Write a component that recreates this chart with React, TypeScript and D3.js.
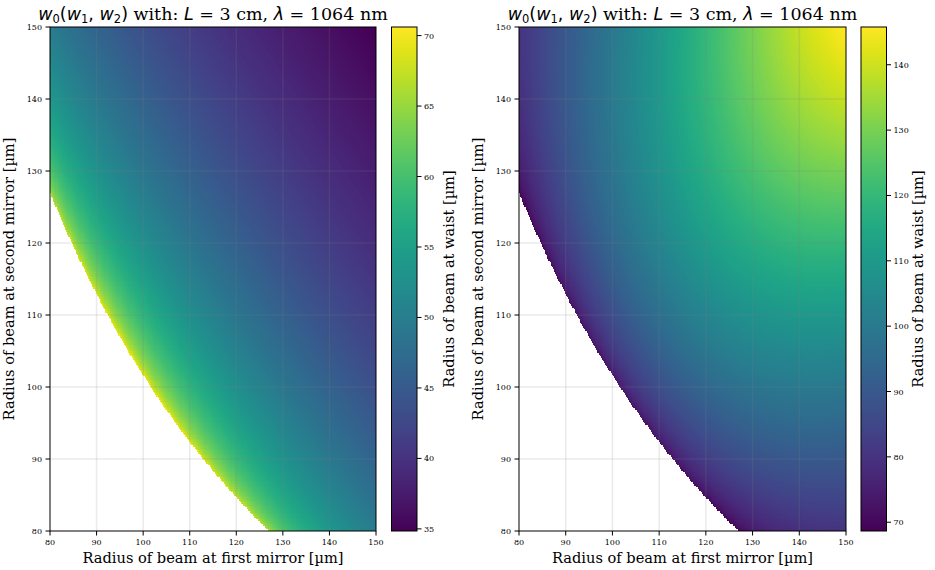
import React, { useMemo } from 'react'
import * as d3 from 'd3'

// cavity parameters from the title
const CAVITY_LENGTH_CM = 3
const WAVELENGTH_NM = 1064

// beam radius at the mirrors, µm (axis ranges)
const MIRROR_RANGE: [number, number] = [80, 150]
const AXIS_TICKS = [80, 90, 100, 110, 120, 130, 140, 150]
const CB_TICKS_SMALL = [35, 40, 45, 50, 55, 60, 65, 70]
const CB_TICKS_LARGE = [70, 80, 90, 100, 110, 120, 130, 140]
const GRID_N = 300

const TOP = 27
const BOTTOM = 531
const SERIF = 'DejaVu Serif, serif'
const SANS = 'DejaVu Sans, sans-serif'

// waist radius (µm) of the gaussian beam that has radius w1, w2 at two mirrors L apart
function waist(w1: number, w2: number, large: boolean): number {
  const lam = WAVELENGTH_NM / 1000
  const L = CAVITY_LENGTH_CM * 1e4
  const a = (lam * L) / (2 * Math.PI)
  const D = w2 * w2 - w1 * w1
  const A = 1 + (D * D) / (16 * a * a)
  const B = (w1 * w1 + w2 * w2) / 2
  const C = a * a
  const disc = B * B - 4 * A * C
  if (disc < 0) return NaN
  const u = (B + (large ? 1 : -1) * Math.sqrt(disc)) / (2 * A)
  return Math.sqrt(u)
}

function buildGrid(large: boolean) {
  const step = (MIRROR_RANGE[1] - MIRROR_RANGE[0]) / GRID_N
  const vals: number[] = []
  for (let r = 0; r < GRID_N; r++) {
    const w2 = MIRROR_RANGE[1] - (r + 0.5) * step
    for (let c = 0; c < GRID_N; c++) {
      const w1 = MIRROR_RANGE[0] + (c + 0.5) * step
      vals.push(waist(w1, w2, large))
    }
  }
  const ext = d3.extent(vals.filter((v) => !isNaN(v))) as [number, number]
  return { vals, ext }
}

function gridImage(vals: number[], color: (v: number) => string) {
  const canvas = document.createElement('canvas')
  canvas.width = GRID_N
  canvas.height = GRID_N
  const ctx = canvas.getContext('2d')!
  const img = ctx.createImageData(GRID_N, GRID_N)
  vals.forEach((v, i) => {
    if (isNaN(v)) return
    const c = d3.rgb(color(v))
    img.data[i * 4] = c.r
    img.data[i * 4 + 1] = c.g
    img.data[i * 4 + 2] = c.b
    img.data[i * 4 + 3] = 255
  })
  ctx.putImageData(img, 0, 0)
  return canvas.toDataURL()
}

const Title: React.FC<{ x: number }> = ({ x }) => {
  const subSize = 11.5
  return (
    <text x={x} y={19.5} textAnchor="middle" fontSize={17.5} fontFamily={SERIF} fill="#000">
      <tspan fontFamily={SANS} fontStyle="italic">w</tspan>
      <tspan fontFamily={SANS} fontSize={subSize} dy={3.5}>0</tspan>
      <tspan fontFamily={SANS} dy={-3.5}>(</tspan>
      <tspan fontFamily={SANS} fontStyle="italic">w</tspan>
      <tspan fontFamily={SANS} fontSize={subSize} dy={3.5}>1</tspan>
      <tspan fontFamily={SANS} dy={-3.5}>, </tspan>
      <tspan fontFamily={SANS} fontStyle="italic">w</tspan>
      <tspan fontFamily={SANS} fontSize={subSize} dy={3.5}>2</tspan>
      <tspan fontFamily={SANS} dy={-3.5}>)</tspan>
      <tspan> with: </tspan>
      <tspan fontFamily={SANS} fontStyle="italic">L</tspan>
      <tspan> = {CAVITY_LENGTH_CM} cm, </tspan>
      <tspan fontFamily={SANS} fontStyle="italic">λ</tspan>
      <tspan> = {WAVELENGTH_NM} nm</tspan>
    </text>
  )
}

interface PanelProps {
  x0: number
  x1: number
  cbX: number
  large: boolean
  cbTicks: number[]
  id: string
}

const Panel: React.FC<PanelProps> = ({ x0, x1, cbX, large, cbTicks, id }) => {
  const { vals, ext } = useMemo(() => buildGrid(large), [large])
  const color = useMemo(() => d3.scaleSequential(d3.interpolateViridis).domain(ext), [ext])
  const href = useMemo(() => gridImage(vals, color), [vals, color])

  const x = d3.scaleLinear().domain(MIRROR_RANGE).range([x0, x1])
  const y = d3.scaleLinear().domain(MIRROR_RANGE).range([BOTTOM, TOP])
  const cbY = d3.scaleLinear().domain(ext).range([BOTTOM, TOP])
  const cbW = 25.5
  const stops = d3.range(0, 1.0001, 0.05)
  const tickFont = { fontSize: 8, fontFamily: SERIF, fill: '#000' }
  const gridStyle = { stroke: '#808080', strokeOpacity: 0.16, strokeWidth: 1.5 }

  return (
    <g>
      <defs>
        <linearGradient id={id} x1="0" y1="1" x2="0" y2="0">
          {stops.map((t) => (
            <stop key={t} offset={t} stopColor={d3.interpolateViridis(t)} />
          ))}
        </linearGradient>
      </defs>
      <image
        href={href}
        x={x0}
        y={TOP}
        width={x1 - x0}
        height={BOTTOM - TOP}
        preserveAspectRatio="none"
        style={{ imageRendering: 'pixelated' }}
      />
      {/* grid */}
      {AXIS_TICKS.slice(1, -1).map((t) => (
        <g key={t}>
          <line x1={x(t)} x2={x(t)} y1={TOP} y2={BOTTOM} {...gridStyle} />
          <line x1={x0} x2={x1} y1={y(t)} y2={y(t)} {...gridStyle} />
        </g>
      ))}
      <rect x={x0} y={TOP} width={x1 - x0} height={BOTTOM - TOP} fill="none" stroke="#000" strokeWidth={1} />
      {/* x axis */}
      {AXIS_TICKS.map((t) => (
        <g key={'x' + t}>
          <line x1={x(t)} x2={x(t)} y1={BOTTOM} y2={BOTTOM + 4.5} stroke="#000" />
          <text x={x(t)} y={BOTTOM + 14} textAnchor="middle" {...tickFont}>{t}</text>
        </g>
      ))}
      {/* y axis */}
      {AXIS_TICKS.map((t) => (
        <g key={'y' + t}>
          <line x1={x0 - 4.5} x2={x0} y1={y(t)} y2={y(t)} stroke="#000" />
          <text x={x0 - 8} y={y(t) + 3} textAnchor="end" {...tickFont}>{t}</text>
        </g>
      ))}
      <text x={(x0 + x1) / 2} y={563} textAnchor="middle" fontSize={14.6} fontFamily={SERIF}>
        Radius of beam at first mirror [µm]
      </text>
      <text
        transform={`translate(${x0 - 36},${(TOP + BOTTOM) / 2}) rotate(-90)`}
        textAnchor="middle"
        fontSize={14.6}
        fontFamily={SERIF}
      >
        Radius of beam at second mirror [µm]
      </text>
      {/* colorbar */}
      <rect x={cbX} y={TOP} width={cbW} height={BOTTOM - TOP} fill={`url(#${id})`} stroke="#000" strokeWidth={1} />
      {cbTicks.map((t) => (
        <g key={'c' + t}>
          <line x1={cbX + cbW} x2={cbX + cbW + 4.5} y1={cbY(t)} y2={cbY(t)} stroke="#000" />
          <text x={cbX + cbW + 7} y={cbY(t) + 3} {...tickFont}>{t}</text>
        </g>
      ))}
      <text
        transform={`translate(${cbX + 62},${(TOP + BOTTOM) / 2}) rotate(-90)`}
        textAnchor="middle"
        fontSize={14.6}
        fontFamily={SERIF}
      >
        Radius of beam at waist [µm]
      </text>
      <Title x={(x0 + x1) / 2} />
    </g>
  )
}

export default function App() {
  return (
    <svg width={935} height={570} style={{ position: 'absolute', left: 0, top: 0, background: '#fff' }}>
      <Panel x0={50} x1={376} cbX={391.5} large={false} cbTicks={CB_TICKS_SMALL} id="cb-small" />
      <Panel x0={519} x1={846} cbX={861} large={true} cbTicks={CB_TICKS_LARGE} id="cb-large" />
    </svg>
  )
}
